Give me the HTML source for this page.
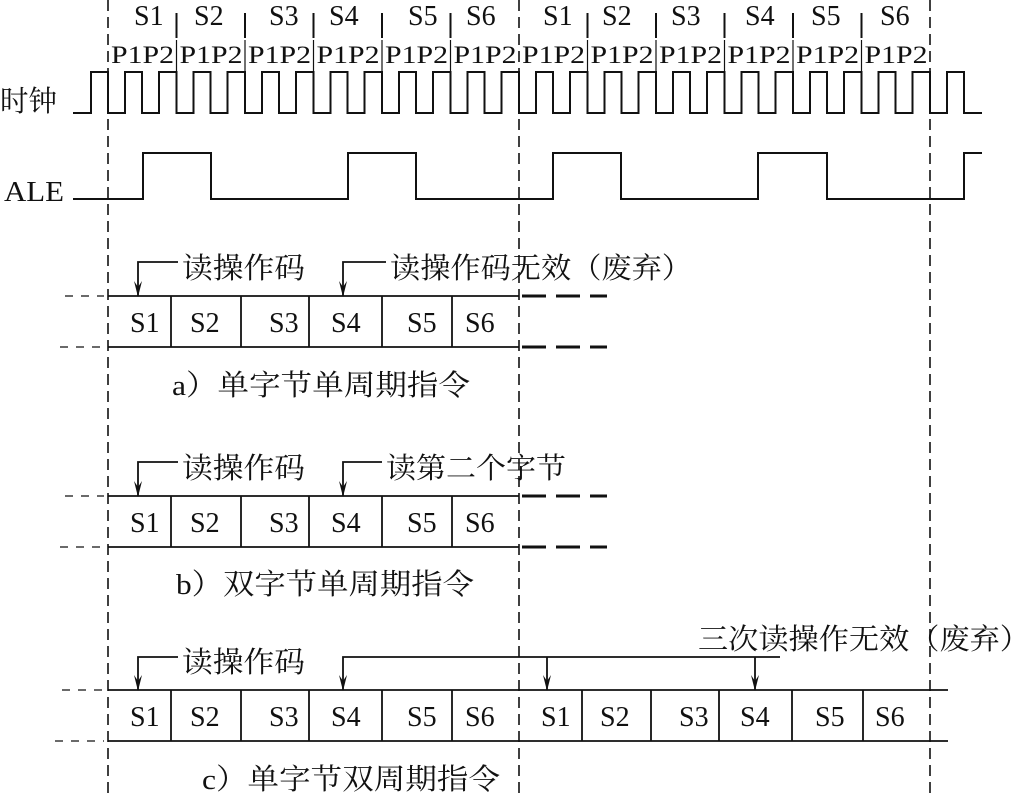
<!DOCTYPE html>
<html><head><meta charset="utf-8"><style>
html,body{margin:0;padding:0;background:#fff}
svg{display:block}
text{font-family:"Liberation Serif","Noto Serif CJK SC","Noto Sans CJK SC",serif;fill:#111}
.s{font-size:28px}
.p{font-size:25px}
.c{font-size:29px}
</style></head><body>
<svg width="1032" height="799" viewBox="0 0 1032 799" xmlns="http://www.w3.org/2000/svg">
<defs><marker id="ar" markerWidth="8" markerHeight="16" refX="4" refY="15" orient="0" markerUnits="userSpaceOnUse"><path d="M0,0 L4,16 L8,0 L4,6 Z" fill="#111"/></marker></defs>
<g stroke="#111" stroke-width="1.6" stroke-dasharray="11,6" fill="none">
<line x1="108" y1="0" x2="108" y2="799"/>
<line x1="519" y1="0" x2="519" y2="799"/>
<line x1="930" y1="0" x2="930" y2="799"/>
</g>
<g stroke="#111" stroke-width="2">
<line x1="176.5" y1="13" x2="176.5" y2="38"/><line x1="245" y1="13" x2="245" y2="38"/><line x1="313.5" y1="13" x2="313.5" y2="38"/><line x1="382" y1="13" x2="382" y2="38"/><line x1="450.5" y1="13" x2="450.5" y2="38"/>
<line x1="587.5" y1="13" x2="587.5" y2="38"/><line x1="656" y1="13" x2="656" y2="38"/><line x1="724.5" y1="13" x2="724.5" y2="38"/><line x1="793" y1="13" x2="793" y2="38"/><line x1="861.5" y1="13" x2="861.5" y2="38"/>
</g>
<g stroke="#111" stroke-width="1.2">
<line x1="176.5" y1="40" x2="176.5" y2="72"/><line x1="245" y1="40" x2="245" y2="72"/><line x1="313.5" y1="40" x2="313.5" y2="72"/><line x1="382" y1="40" x2="382" y2="72"/><line x1="450.5" y1="40" x2="450.5" y2="72"/>
<line x1="587.5" y1="40" x2="587.5" y2="72"/><line x1="656" y1="40" x2="656" y2="72"/><line x1="724.5" y1="40" x2="724.5" y2="72"/><line x1="793" y1="40" x2="793" y2="72"/><line x1="861.5" y1="40" x2="861.5" y2="72"/>
</g>
<g class="s">
<text x="134" y="25">S1</text><text x="194" y="25">S2</text><text x="269" y="25">S3</text><text x="329" y="25">S4</text><text x="408" y="25">S5</text><text x="466" y="25">S6</text>
<text x="543" y="25">S1</text><text x="602" y="25">S2</text><text x="671" y="25">S3</text><text x="745" y="25">S4</text><text x="811" y="25">S5</text><text x="880" y="25">S6</text>
</g>
<g class="p">
<text x="111" y="63" textLength="63" lengthAdjust="spacingAndGlyphs">P1P2</text>
<text x="179.5" y="63" textLength="63" lengthAdjust="spacingAndGlyphs">P1P2</text>
<text x="248" y="63" textLength="63" lengthAdjust="spacingAndGlyphs">P1P2</text>
<text x="316.5" y="63" textLength="63" lengthAdjust="spacingAndGlyphs">P1P2</text>
<text x="385" y="63" textLength="63" lengthAdjust="spacingAndGlyphs">P1P2</text>
<text x="453.5" y="63" textLength="63" lengthAdjust="spacingAndGlyphs">P1P2</text>
<text x="522" y="63" textLength="63" lengthAdjust="spacingAndGlyphs">P1P2</text>
<text x="590.5" y="63" textLength="63" lengthAdjust="spacingAndGlyphs">P1P2</text>
<text x="659" y="63" textLength="63" lengthAdjust="spacingAndGlyphs">P1P2</text>
<text x="727.5" y="63" textLength="63" lengthAdjust="spacingAndGlyphs">P1P2</text>
<text x="796" y="63" textLength="63" lengthAdjust="spacingAndGlyphs">P1P2</text>
<text x="864.5" y="63" textLength="63" lengthAdjust="spacingAndGlyphs">P1P2</text>
</g>
<text x="0" y="111" class="c" textLength="57" lengthAdjust="spacingAndGlyphs">时钟</text>
<text x="4" y="201" class="c" textLength="60" lengthAdjust="spacingAndGlyphs">ALE</text>
<path fill="none" stroke="#111" stroke-width="2" d="M73 113H91V72H108V113H125V72H142V113H159V72H176.5V113H193.5V72H210.5V113H227.5V72H245V113H262V72H279V113H296V72H313.5V113H330.5V72H347.5V113H364.5V72H382V113H399V72H416V113H433V72H450.5V113H467.5V72H484.5V113H501.5V72H519V113H536V72H553V113H570V72H587.5V113H604.5V72H621.5V113H638.5V72H656V113H673V72H690V113H707V72H724.5V113H741.5V72H758.5V113H775.5V72H793V113H810V72H827V113H844V72H861.5V113H878.5V72H895.5V113H912.5V72H930V113H947V72H964V113H982"/>
<path fill="none" stroke="#111" stroke-width="2" d="M73 199H143V153H211V199H348V153H416V199H553V153H621V199H758V153H827V199H964V153H982"/>

<g stroke="#111" stroke-width="1.8" fill="none">
<line x1="108" y1="296" x2="519" y2="296"/><line x1="108" y1="347" x2="519" y2="347"/>
<line x1="171" y1="296" x2="171" y2="347"/><line x1="241" y1="296" x2="241" y2="347"/><line x1="309" y1="296" x2="309" y2="347"/><line x1="382" y1="296" x2="382" y2="347"/><line x1="452" y1="296" x2="452" y2="347"/>
<line x1="65" y1="296" x2="104" y2="296" stroke-width="1.2" stroke-dasharray="8,8"/>
<line x1="60" y1="347" x2="104" y2="347" stroke-width="1.2" stroke-dasharray="8,8"/>
<line x1="522" y1="296" x2="607" y2="296" stroke-width="3" stroke-dasharray="24,10"/>
<line x1="522" y1="347" x2="607" y2="347" stroke-width="3" stroke-dasharray="24,10"/>
<path d="M178 262H138V296" marker-end="url(#ar)"/>
<path d="M386 262H343V296" marker-end="url(#ar)"/>
</g>
<g class="s">
<text x="130" y="332">S1</text><text x="190" y="332">S2</text><text x="269" y="332">S3</text><text x="331" y="332">S4</text><text x="407" y="332">S5</text><text x="465" y="332">S6</text>
</g>
<text x="182" y="278" class="c" textLength="123" lengthAdjust="spacingAndGlyphs">读操作码</text>
<text x="390" y="278" class="c" textLength="302" lengthAdjust="spacingAndGlyphs">读操作码无效（废弃）</text>
<text x="172" y="395" class="c" textLength="298" lengthAdjust="spacingAndGlyphs">a）单字节单周期指令</text>

<g stroke="#111" stroke-width="1.8" fill="none">
<line x1="108" y1="496" x2="519" y2="496"/><line x1="108" y1="547" x2="519" y2="547"/>
<line x1="171" y1="496" x2="171" y2="547"/><line x1="241" y1="496" x2="241" y2="547"/><line x1="309" y1="496" x2="309" y2="547"/><line x1="382" y1="496" x2="382" y2="547"/><line x1="452" y1="496" x2="452" y2="547"/>
<line x1="65" y1="496" x2="104" y2="496" stroke-width="1.2" stroke-dasharray="8,8"/>
<line x1="60" y1="547" x2="104" y2="547" stroke-width="1.2" stroke-dasharray="8,8"/>
<line x1="522" y1="496" x2="607" y2="496" stroke-width="3" stroke-dasharray="24,10"/>
<line x1="522" y1="547" x2="607" y2="547" stroke-width="3" stroke-dasharray="24,10"/>
<path d="M178 462H138V496" marker-end="url(#ar)"/>
<path d="M382 462H343V496" marker-end="url(#ar)"/>
</g>
<g class="s">
<text x="130" y="532">S1</text><text x="190" y="532">S2</text><text x="269" y="532">S3</text><text x="331" y="532">S4</text><text x="407" y="532">S5</text><text x="465" y="532">S6</text>
</g>
<text x="182" y="478" class="c" textLength="123" lengthAdjust="spacingAndGlyphs">读操作码</text>
<text x="386" y="478" class="c" textLength="180" lengthAdjust="spacingAndGlyphs">读第二个字节</text>
<text x="176" y="594" class="c" textLength="298" lengthAdjust="spacingAndGlyphs">b）双字节单周期指令</text>

<g stroke="#111" stroke-width="1.8" fill="none">
<line x1="108" y1="690" x2="948" y2="690"/><line x1="108" y1="741" x2="948" y2="741"/>
<line x1="171" y1="690" x2="171" y2="741"/><line x1="241" y1="690" x2="241" y2="741"/><line x1="309" y1="690" x2="309" y2="741"/><line x1="382" y1="690" x2="382" y2="741"/><line x1="452" y1="690" x2="452" y2="741"/>
<line x1="582" y1="690" x2="582" y2="741"/><line x1="651" y1="690" x2="651" y2="741"/><line x1="719" y1="690" x2="719" y2="741"/><line x1="792" y1="690" x2="792" y2="741"/><line x1="863" y1="690" x2="863" y2="741"/>
<line x1="62" y1="690" x2="104" y2="690" stroke-width="1.2" stroke-dasharray="8,8"/>
<line x1="55" y1="741" x2="104" y2="741" stroke-width="1.2" stroke-dasharray="8,8"/>
<path d="M178 657H138V690" marker-end="url(#ar)"/>
<path d="M780 657H343V690" marker-end="url(#ar)"/>
<path d="M547 657V690" marker-end="url(#ar)"/>
<path d="M755 657V690" marker-end="url(#ar)"/>
</g>
<g class="s">
<text x="130" y="726">S1</text><text x="190" y="726">S2</text><text x="269" y="726">S3</text><text x="331" y="726">S4</text><text x="407" y="726">S5</text><text x="465" y="726">S6</text>
<text x="541" y="726">S1</text><text x="600" y="726">S2</text><text x="679" y="726">S3</text><text x="740" y="726">S4</text><text x="815" y="726">S5</text><text x="875" y="726">S6</text>
</g>
<text x="182" y="672" class="c" textLength="123" lengthAdjust="spacingAndGlyphs">读操作码</text>
<text x="698" y="649" class="c" textLength="332" lengthAdjust="spacingAndGlyphs">三次读操作无效（废弃）</text>
<text x="202" y="789" class="c" textLength="298" lengthAdjust="spacingAndGlyphs">c）单字节双周期指令</text>
</svg>
</body></html>
